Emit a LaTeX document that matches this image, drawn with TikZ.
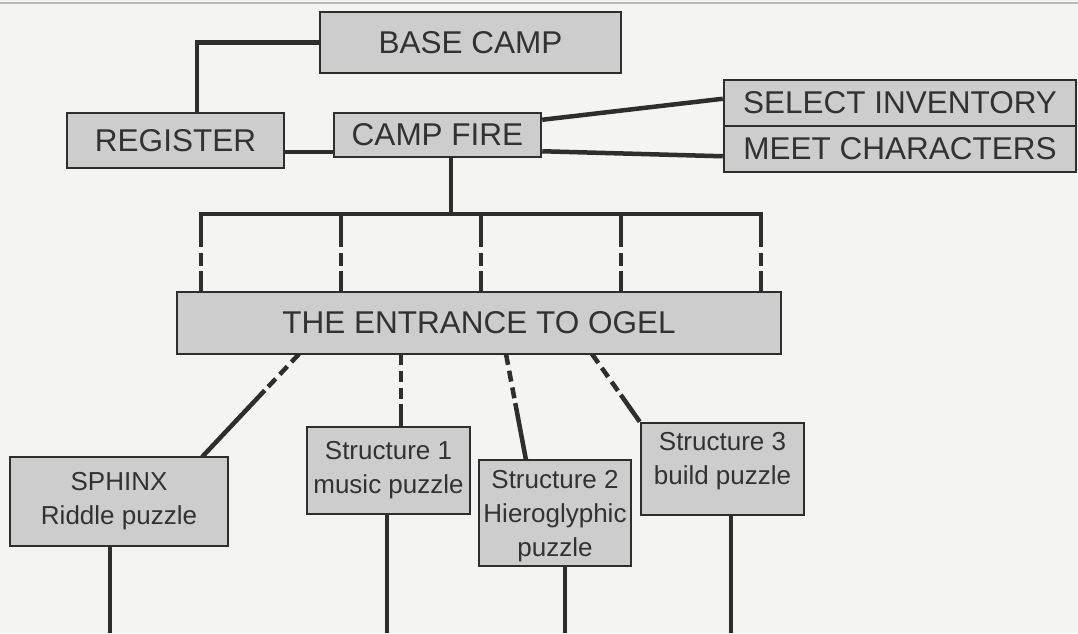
\documentclass[tikz,border=0pt]{standalone}
\usepackage{fontspec}
\setmainfont{Liberation Sans}
\usetikzlibrary{backgrounds}
\definecolor{bg}{RGB}{244,244,243}
\definecolor{boxfill}{RGB}{205,205,205}
\definecolor{ink}{RGB}{46,46,46}
\definecolor{txt}{RGB}{50,50,50}
\tikzset{
  box/.style={draw=ink, line width=2.5pt, fill=boxfill, inner sep=0pt, text=txt, align=center},
  bigbox/.style={box, font=\fontsize{31.5}{35}\selectfont},
  smallbox/.style={box, font=\fontsize{26}{34}\selectfont},
  smalltext/.style={inner sep=0pt, text=txt, align=center, font=\fontsize{26}{34}\selectfont},
  conn/.style={draw=ink, line width=4.5pt},
  vdash/.style={conn, dash pattern=on 33pt off 6pt on 13pt off 5pt on 40pt},
  ddash/.style={conn, dash pattern=on 11pt off 6pt on 11pt off 6pt on 11pt off 5pt on 200pt},
}
\begin{document}
\begin{tikzpicture}[x=1pt, y=-1pt]
\useasboundingbox (0,0) rectangle (1078,633);
% boxes
\node[bigbox, minimum width=301pt, minimum height=61pt] (base) at (470.5,42.5) {BASE CAMP};
\node[bigbox, minimum width=217pt, minimum height=55pt] (register) at (175.5,140.5) {REGISTER};
\node[bigbox, minimum width=207pt, minimum height=44pt] (camp) at (437.5,135) {CAMP FIRE};
\node[bigbox, minimum width=352pt, minimum height=46pt] (select) at (900,103) {SELECT INVENTORY};
\node[bigbox, minimum width=352pt, minimum height=46pt] (meet) at (900,149) {MEET CHARACTERS};
\node[bigbox, minimum width=604pt, minimum height=62pt] (ent) at (479,323) {THE ENTRANCE TO OGEL};
\node[smallbox, minimum width=218pt, minimum height=89pt] (sphinx) at (119,501.5) {SPHINX\\Riddle puzzle};
\node[smallbox, minimum width=163pt, minimum height=87pt] (s1) at (388.5,470.5) {Structure 1\\music puzzle};
\node[smallbox, minimum width=152pt, minimum height=106pt] (s2) at (555,513) {};
\node[smalltext] (s2text) at (555,516) {Structure 2\\Hieroglyphic\\puzzle};
\node[smallbox, minimum width=163pt, minimum height=92pt] (s3) at (722.5,469) {};
\node[smalltext] (s3text) at (722.5,461) {Structure 3\\build puzzle};
% coordinates
\coordinate (rc) at ([yshift=-17pt]camp.west);
\coordinate (cf) at ([xshift=13.5pt]camp.south);
\coordinate (busL) at (201,214);
\coordinate (busR) at (761,214);
\coordinate (e1) at (299,354);
\coordinate (e2) at (401,354);
\coordinate (e3) at (506,354);
\coordinate (e4) at (592,354);
\coordinate (p1) at (202,457);
\coordinate (p3) at (526,460);
\coordinate (b1) at (110,633);
\coordinate (b2) at (387,633);
\coordinate (b3) at (565,633);
\coordinate (b4) at (731,633);
\begin{scope}[on background layer]
  \fill[bg] (0,0) rectangle (1078,633);
  \draw[gray!55, line width=1.5pt] (0,3) -- (1078,3);
  \draw[conn] ([xshift=131pt]register.north west) |- (base.west);
  \draw[conn] (rc) -- (rc -| register.east);
  \draw[conn] ([yshift=-8pt]camp.north east) -- ([yshift=-20pt]select.north west);
  \draw[conn] ([yshift=7pt]camp.south east) -- ([yshift=17pt]meet.south west);
  \draw[conn] (cf) -- (cf |- busL);
  \draw[conn, line cap=rect] (busL) -- (busR);
  \foreach \x in {201,341,481,621,761} {
    \draw[vdash] (\x,214) -- (\x,292);
  }
  \draw[ddash] (e1) -- (p1);
  \draw[ddash] (e2) -- (e2 |- s1.north);
  \draw[ddash] (e3) -- (p3);
  \draw[ddash] (e4) -- (s3.north west);
  \draw[conn] (sphinx.south -| b1) -- (b1);
  \draw[conn] (s1.south -| b2) -- (b2);
  \draw[conn] (s2.south -| b3) -- (b3);
  \draw[conn] (s3.south -| b4) -- (b4);
\end{scope}
\end{tikzpicture}
\end{document}
